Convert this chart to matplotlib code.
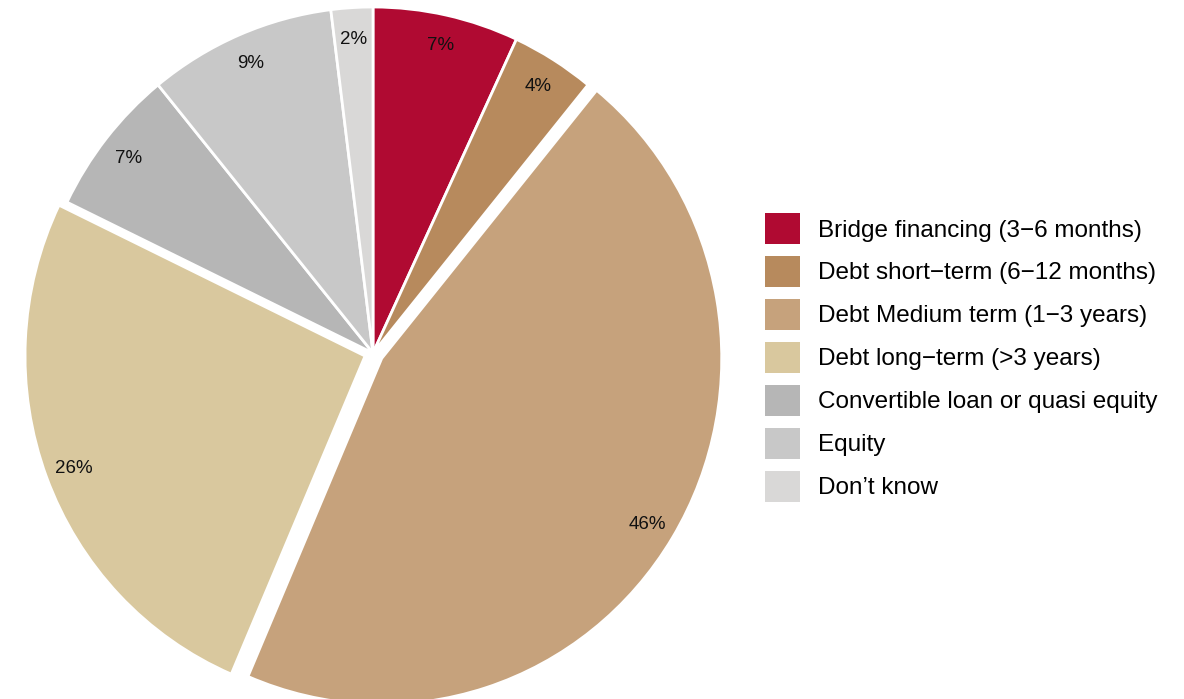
import matplotlib
matplotlib.use('Agg')
import matplotlib.pyplot as plt
from matplotlib.patches import Patch

plt.rcParams['font.family'] = ['Liberation Sans', 'DejaVu Sans']

# Preferred financing type, share of respondents (%)
categories = [
    'Bridge financing (3\u22126 months)',
    'Debt short\u2212term (6\u221212 months)',
    'Debt Medium term (1\u22123 years)',
    'Debt long\u2212term (>3 years)',
    'Convertible loan or quasi equity',
    'Equity',
    'Don\u2019t know',
]
shares = [7, 4, 46, 26, 7, 9, 2]
colors = ['#B00A32', '#B78A5D', '#C6A27C', '#D9C89E', '#B6B6B6', '#C8C8C8', '#D9D8D7']
explode = [0, 0, 0.03, 0.025, 0, 0, 0]

W, H = 1184, 699
cx, cy = 373, 353     # pie centre in pixels
rx, ry = 340, 346     # slightly taller than wide

fig = plt.figure(figsize=(W / 100, H / 100), dpi=100)
ax = fig.add_axes([(cx - rx) / W, (H - cy - ry) / H, 2 * rx / W, 2 * ry / H])

share_iter = iter(shares)
wedges, texts, autotexts = ax.pie(
    shares, colors=colors, explode=explode, startangle=90, counterclock=False,
    radius=1, autopct=lambda p: f"{next(share_iter)}%", pctdistance=0.915,
    wedgeprops=dict(edgecolor='white', linewidth=2),
    textprops=dict(fontsize=13.5, color='#111111'))
for w in wedges:
    w.set_clip_on(False)
for t in autotexts:
    t.set_va('center_baseline')
ax.set_xlim(-1, 1)
ax.set_ylim(-1, 1)
ax.set_aspect('auto')
ax.axis('off')

handles = [Patch(facecolor=c, edgecolor='none') for c in colors]
fig.legend(handles, categories, loc='upper left',
           bbox_to_anchor=(765 / W, 1 - 213 / H), frameon=False,
           fontsize=17.5, handlelength=1.44, handleheight=1.59,
           handletextpad=0.74, labelspacing=0.49, borderpad=0, borderaxespad=0)

fig.savefig('out.png', dpi=100, facecolor='white')
